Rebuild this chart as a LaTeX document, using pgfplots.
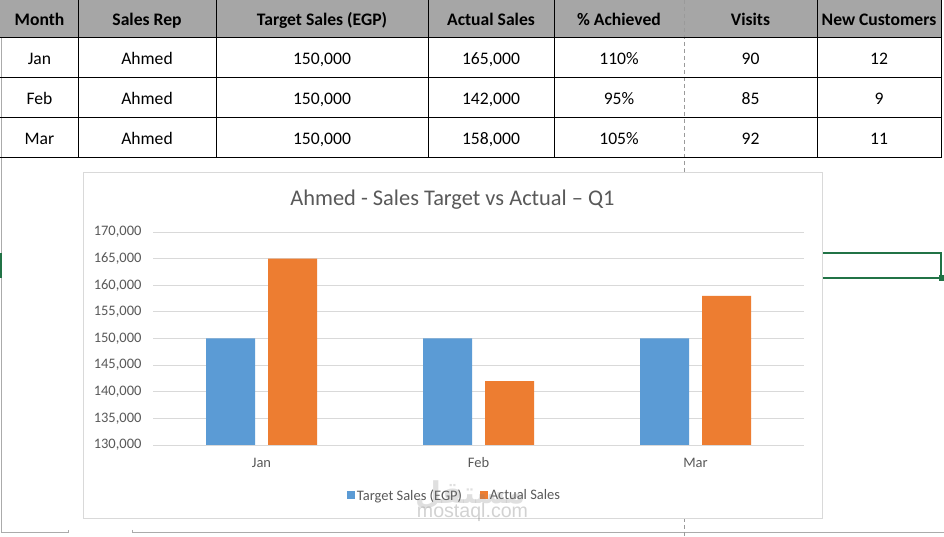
\documentclass[border=0pt]{standalone}
\usepackage{pgfplots}
\pgfplotsset{compat=1.18}
\usepackage{fontspec}
\setmainfont{Carlito}
\newfontfamily\wmfont{Liberation Sans}
\newfontfamily\arabicfont[Script=Arabic]{DejaVu Sans}
\TeXXeTstate=1
\definecolor{tblue}{HTML}{5B9BD5}
\definecolor{torange}{HTML}{ED7D31}
\definecolor{gridc}{HTML}{D9D9D9}
\definecolor{textgray}{HTML}{595959}
\definecolor{headergray}{HTML}{A6A6A6}
\definecolor{pbreak}{HTML}{9A9A9A}
\definecolor{xlgreen}{HTML}{217346}
\definecolor{edgegray}{HTML}{ABABAB}
\newcommand\fs[1]{\fontsize{#1}{#1}\selectfont}
\begin{document}
\begin{tikzpicture}[x=1pt,y=1pt]
\path[use as bounding box] (0,0) rectangle (944,537);
\fill[white] (0,0) rectangle (944,537);
% sheet edges
\draw[edgegray, line width=1pt] (1.5,537) -- (1.5,4) -- (68,4) -- (68,7);
\draw[edgegray, line width=1pt] (132,7) -- (132,4) -- (944,4);
\fill[xlgreen] (0,259) rectangle (2,284);
% selected cell
\draw[xlgreen, line width=2pt] (780,283.5) -- (941,283.5) -- (941,258.5) -- (780,258.5);
\fill[xlgreen] (938.5,256) rectangle (944,261.5);
% table
\fill[headergray] (0,537) rectangle (941,499);
\draw[pbreak, line width=0.8pt, dash pattern=on 4pt off 3pt] (684,537) -- (684,0);
\foreach \yy in {499,459,419,379} {\draw[black, line width=1pt] (0,\yy) -- (941.5,\yy);}
\foreach \xx in {78,216,428,554,817,941} {\draw[black, line width=1pt] (\xx,537) -- (\xx,379);}
\begin{scope}[every node/.style={anchor=base, inner sep=0pt, font=\fs{17.6}}]
\begin{scope}[every node/.append style={font=\fs{17.6}\bfseries}]
\node at (39.5,511) {Month};
\node at (147,511) {Sales Rep};
\node at (322,511) {Target Sales (EGP)};
\node at (491,511) {Actual Sales};
\node at (619,511) {\% Achieved};
\node at (750.5,511) {Visits};
\node at (879,511) {New Customers};
\end{scope}
\node at (39.5,472) {Jan}; \node at (147,472) {Ahmed}; \node at (322,472) {150,000}; \node at (491,472) {165,000}; \node at (619,472) {110\%}; \node at (750.5,472) {90}; \node at (879,472) {12};
\node at (39.5,432) {Feb}; \node at (147,432) {Ahmed}; \node at (322,432) {150,000}; \node at (491,432) {142,000}; \node at (619,432) {95\%}; \node at (750.5,432) {85}; \node at (879,432) {9};
\node at (39.5,392) {Mar}; \node at (147,392) {Ahmed}; \node at (322,392) {150,000}; \node at (491,392) {158,000}; \node at (619,392) {105\%}; \node at (750.5,392) {92}; \node at (879,392) {11};
\end{scope}
% chart area
\draw[gridc, line width=1pt, fill=white] (83.5,364) rectangle (822,18);
\node[anchor=base, inner sep=0pt, font=\fs{22.4}, text=textgray] at (452.5,331) {Ahmed - Sales Target vs Actual – Q1};
\begin{axis}[
  at={(153pt,92pt)}, anchor=south west,
  scale only axis, width=651pt, height=213pt,
  xmin=-0.5, xmax=2.5, ymin=130000, ymax=170000,
  ybar=13pt, bar width=49pt,
  xtick={0,1,2}, xticklabels={Jan,Feb,Mar},
  ytick={130000,135000,140000,145000,150000,155000,160000,165000,170000},
  ymajorgrids, grid style={draw=gridc, line width=0.8pt},
  axis line style={draw=none}, major tick length=0pt,
  scaled y ticks=false,
  /pgf/number format/fixed, /pgf/number format/1000 sep={,}, /pgf/number format/assume math mode=true,
  tick label style={font=\fs{14.5}, text=textgray},
  yticklabel style={anchor=east, inner sep=0pt, xshift=-11.3pt},
  xticklabel style={anchor=base, inner sep=0pt, yshift=-22.7pt},
  legend style={at={(0.4634,-0.237)}, anchor=center, draw=none, fill=none, legend columns=2,
    font=\fs{14.5}, text=textgray, inner sep=0pt, nodes={inner sep=2pt},
    /tikz/every even column/.append style={column sep=16pt}},
  legend cell align=left,
  legend image code/.code={\fill[#1] (0pt,-3.2pt) rectangle (7.7pt,4.5pt);},
]
\addplot[fill=tblue, draw=none] coordinates {(0,150000) (1,150000) (2,150000)};
\addlegendentry{Target Sales (EGP)}
\addplot[fill=torange, draw=none] coordinates {(0,165000) (1,142000) (2,158000)};
\addlegendentry{Actual Sales}
\end{axis}
% watermark
\node[anchor=center, inner sep=0pt, font=\arabicfont\bfseries\fs{30}, text=gray, opacity=0.25] at (470,42) {\beginR مستقل\endR};
\node[anchor=base, inner sep=0pt, font=\wmfont\fs{19.6}, text=gray, opacity=0.35] at (472.5,19) {mostaql.com};
\end{tikzpicture}
\end{document}
